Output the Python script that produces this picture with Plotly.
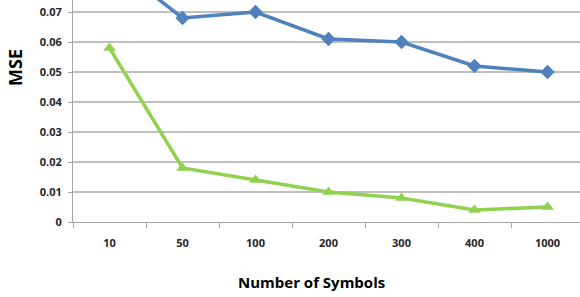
import plotly.graph_objects as go

categories = ["10", "50", "100", "200", "300", "400", "1000"]
series_blue = [0.087, 0.068, 0.070, 0.061, 0.060, 0.052, 0.050]
series_green = [0.058, 0.018, 0.014, 0.010, 0.008, 0.004, 0.005]
y_ticks = [0, 0.01, 0.02, 0.03, 0.04, 0.05, 0.06, 0.07]
y_ticktext = ["0", "0.01", "0.02", "0.03", "0.04", "0.05", "0.06", "0.07"]

FONT = "Open Sans"
TXT = "#262626"

fig = go.Figure()
fig.add_trace(go.Scatter(
    x=categories, y=series_blue, mode="lines+markers",
    line=dict(color="#4F81BD", width=3.5),
    marker=dict(symbol="diamond", size=11, color="#4F81BD"),
    showlegend=False,
))
fig.add_trace(go.Scatter(
    x=categories, y=series_green, mode="lines+markers",
    line=dict(color="#92D050", width=3.5),
    marker=dict(symbol="triangle-up", size=11, color="#92D050"),
    showlegend=False,
))

fig.update_layout(
    width=580, height=297,
    margin=dict(l=73, r=0, t=0, b=75),
    paper_bgcolor="white", plot_bgcolor="white",
    font=dict(family=FONT, color=TXT),
    xaxis=dict(
        type="category", range=[-0.5, 6.445],
        tickson="boundaries", ticks="outside", ticklen=5, tickcolor="#A6A6A6",
        showgrid=False, showline=True, linecolor="#A6A6A6", linewidth=1,
        tickfont=dict(family=FONT, size=11, color=TXT, weight="bold"),
        ticklabelstandoff=11,
    ),
    yaxis=dict(
        range=[0, 0.074], tickvals=y_ticks, ticktext=y_ticktext,
        ticks="outside", ticklen=4, tickcolor="#A6A6A6",
        showgrid=True, gridcolor="#BFBFBF", gridwidth=1.5,
        showline=True, linecolor="#A6A6A6", linewidth=1, zeroline=False,
        tickfont=dict(family=FONT, size=11, color=TXT, weight="bold"),
        ticklabelstandoff=4,
    ),
    annotations=[
        dict(text="Number of Symbols", xref="paper", yref="paper",
             x=(311 - 73) / 507, y=-(282 - 222) / 222, xanchor="center", yanchor="middle",
             showarrow=False, font=dict(family=FONT, size=15, color="#000000", weight="bold")),
        dict(text="MSE", xref="paper", yref="paper",
             x=(15 - 73) / 507, y=(222 - 68) / 222, xanchor="center", yanchor="middle",
             textangle=-90, showarrow=False,
             font=dict(family=FONT, size=18, color="#000000", weight="bold")),
    ],
)

fig.write_html("out.html", config={"displayModeBar": False},
               post_script="document.body.style.margin='0';")
